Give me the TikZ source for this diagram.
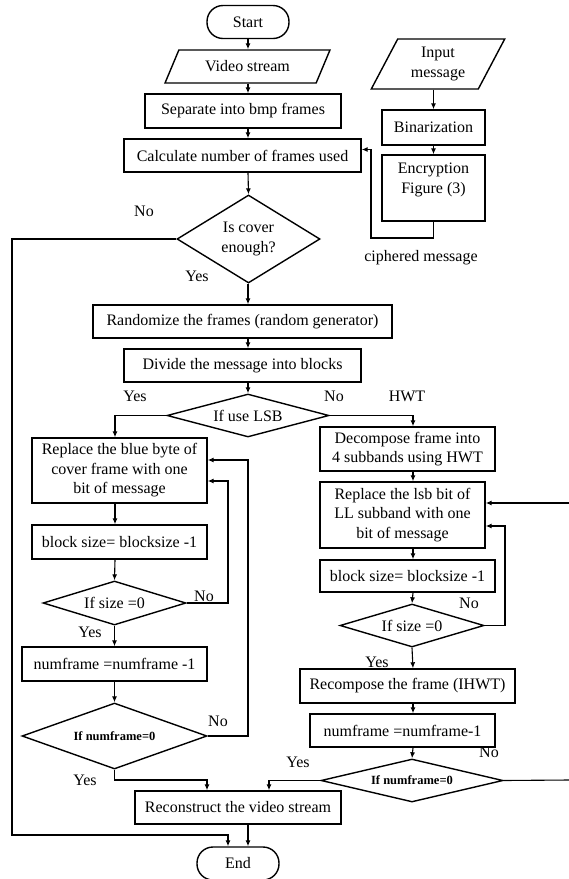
\documentclass[tikz,border=0pt]{standalone}
\usepackage{fontspec}
\setmainfont{Liberation Serif}
\usepackage{tikz}
\usetikzlibrary{
  positioning,
  arrows.meta,
  shapes.geometric,
  calc
}
\tikzset{
  box/.style={draw, line width=1.4pt, inner sep=0pt, align=center,
    minimum width=#1},
  box/.default=100,
  term/.style={draw, line width=1.4pt, rounded corners=16pt, minimum width=82,
    minimum height=33},
  io/.style={draw, line width=1.4pt, trapezium, trapezium stretches=true,
    align=center, inner sep=0pt},
  ask/.style={draw, line width=1.4pt, diamond, inner sep=0pt, align=center},
  flow/.style={line width=1.1pt, -{Latex[length=6pt,width=5pt]}},
  lbl/.style={inner sep=0pt}
}

\begin{document}
\begin{tikzpicture}[x=1pt, y=-1pt, font=\fontsize{16}{19.5}\selectfont]
  \useasboundingbox (0,0) rectangle (569,879);
  % columns for the connectors
  \coordinate (mcol) at (248,0);
  \coordinate (lcol) at (115,0);
  \coordinate (rcol) at (413,0);

  % main column, top
  \node[term] (start) at (248,22) {Start};
  \node[io, trapezium left angle=53, trapezium right angle=127,
    minimum width=165, minimum height=33] (video) at (247.5,66.5) {Video stream};
  \node[box=196, minimum height=34] (separate) at (243,111) {Separate into bmp frames};
  \node[box=237, minimum height=33] (calc) at (242.5,155.5) {Calculate number of frames used};
  \node[ask, aspect=1.62, minimum width=143, minimum height=88] (cover) at (248.5,239) {Is cover\\enough?};

  % message side
  \node[io, trapezium left angle=62, trapezium right angle=118,
    minimum width=134, minimum height=50] (inmsg) at (438,64) {Input\\message};
  \node[box=103, minimum height=35] (binar) at (433.5,127.5) {Binarization};
  \node[box=103, minimum height=66] (encrypt) at (433.5,188) {Encryption\\Figure (3)\\ };
  \coordinate (cph) at (371,238);
  \node[lbl] (ciph) at (421,258) {ciphered message};

  \node[box=299, minimum height=33] (randomize) at (242.5,321.5) {Randomize the frames (random generator)};
  \node[box=237, minimum height=33] (divide) at (242.5,365.5) {Divide the message into blocks};
  \node[ask, aspect=3.77, minimum width=162, minimum height=43] (lsbq) at (248,415.5) {If use LSB};

  % LSB branch
  \node[box=175, minimum height=65] (replblue) at (119.5,470.5)
    {Replace the blue byte of\\cover frame with one\\bit of message};
  \node[box=175, minimum height=34] (blkl) at (119.5,542) {block size= blocksize -1};
  \node[ask, aspect=3.25, minimum width=143, minimum height=44] (sizel) at (114.5,603) {If size =0};
  \node[box=185, minimum height=34] (numl) at (114.5,664) {numframe =numframe -1};
  \node[ask, aspect=2.8, minimum width=185, minimum height=66,
    font=\fontsize{12.5}{14}\selectfont\bfseries] (numql) at (114.5,736) {If numframe=0};

  % HWT branch
  \node[box=175, minimum height=44] (decomp) at (407.5,449)
    {Decompose frame into\\4 subbands using HWT};
  \node[box=165, minimum height=66] (repllsb) at (402.5,515)
    {Replace the lsb bit of\\LL subband with one\\bit of message};
  \node[box=175, minimum height=32] (blkr) at (407.5,576) {block size= blocksize -1};
  \node[ask, aspect=3.35, minimum width=144, minimum height=43] (sizer) at (412,625.5) {If size =0};
  \node[box=215, minimum height=34] (recomp) at (407.5,686) {Recompose the frame (IHWT)};
  \node[box=185, minimum height=33] (numr) at (402.5,730.5) {numframe =numframe-1};
  \node[ask, aspect=4.23, minimum width=182, minimum height=43,
    font=\fontsize{12.5}{14}\selectfont\bfseries] (numqr) at (412,780.5) {If numframe=0};

  % bottom
  \node[box=206, minimum height=33] (recon) at (238,807.5) {Reconstruct the video stream};
  \node[term] (stop) at (238,863.5) {End};

  % loop corners
  \coordinate (lft) at (12,835);
  \coordinate (lloop1) at (228,481);
  \coordinate (lloop2) at (248,460);
  \coordinate (ljoin) at (207,780);
  \coordinate (rloop1) at (505,526);
  \coordinate (redge) at (569,780);
  \coordinate (redge2) at (569,503);
  \coordinate (rjoin) at (269,780);

  % connectors, main column
  \draw[flow] (start) -- (mcol |- video.north);
  \draw[flow] (mcol |- video.south) -- (mcol |- separate.north);
  \draw[flow] (mcol |- separate.south) -- (mcol |- calc.north);
  \draw[flow] (mcol |- calc.south) -- (cover.north);
  \draw[flow] (cover.west) -| (lft) -| ([xshift=-10]stop.north);
  \draw[flow] (inmsg.south -| binar.north) -- (binar.north);
  \draw[flow] (binar) -- (encrypt);
  \draw[flow] (encrypt.south) |- (cph) |- ([yshift=6]calc.east);
  \draw[flow] (mcol |- cover.south) -- (mcol |- randomize.north);
  \draw[flow] (mcol |- randomize.south) -- (mcol |- divide.north);
  \draw[flow] (mcol |- divide.south) -- (lsbq.north);
  \draw[flow] (lsbq.west) -| (lcol |- replblue.north);
  \draw[flow] (lsbq.east) -| (rcol |- decomp.north);

  % connectors, LSB branch
  \draw[flow] (lcol |- replblue.south) -- (lcol |- blkl.north);
  \draw[flow] (lcol |- blkl.south) -- (sizel.north);
  \draw[flow] (sizel.east) -| (lloop1) -- (lloop1 -| replblue.east);
  \draw[flow] (sizel.south) -- (numl.north);
  \draw[flow] (numl) -- (numql);
  \draw[flow] (numql.east) -| (lloop2) -- (lloop2 -| replblue.east);
  \draw[flow] (numql.south) |- (ljoin) -- (ljoin |- recon.north);

  % connectors, HWT branch
  \draw[flow] (rcol |- decomp.south) -- (rcol |- repllsb.north);
  \draw[flow] (rcol |- repllsb.south) -- (rcol |- blkr.north);
  \draw[flow] (rcol |- blkr.south) -- (sizer.north);
  \draw[flow] (sizer.east) -| (rloop1) -- (rloop1 -| repllsb.east);
  \draw[flow] (sizer.south) -- (rcol |- recomp.north);
  \draw[flow] (rcol |- recomp.south) -- (rcol |- numr.north);
  \draw[flow] (rcol |- numr.south) -- (numqr.north);
  \draw[line width=1.1pt] (numqr.east) -- (redge);
  \draw[flow] (redge2) -- (redge2 -| repllsb.east);
  \draw[flow] (numqr.west) -| (rjoin) -- (rjoin |- recon.north);
  \draw[flow] (mcol |- recon.south) -- (mcol |- stop.north);

  % Yes / No labels
  \node[lbl] (no1) at (144,211) {No};
  \node[lbl] (yes1) at (197,276) {Yes};
  \node[lbl] (yes2) at (135,396) {Yes};
  \node[lbl] (no2) at (334,396) {No};
  \node[lbl] (hwt) at (407,396) {HWT};
  \node[lbl] (no3) at (204,596) {No};
  \node[lbl] (yes3) at (90,632) {Yes};
  \node[lbl] (no4) at (218,721) {No};
  \node[lbl] (yes4) at (85,780) {Yes};
  \node[lbl] (no5) at (469,603) {No};
  \node[lbl] (yes5) at (377,662) {Yes};
  \node[lbl] (no6) at (489,752) {No};
  \node[lbl] (yes6) at (298,762) {Yes};
\end{tikzpicture}
\end{document}
